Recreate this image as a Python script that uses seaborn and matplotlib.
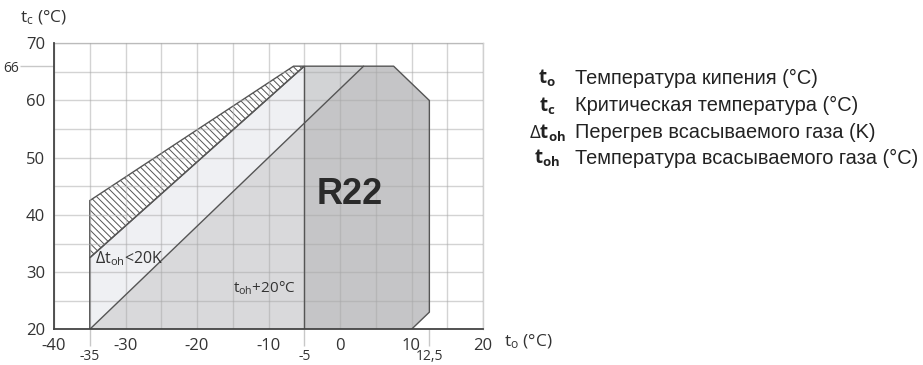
import numpy as np
import pandas as pd
import matplotlib
matplotlib.use("Agg")
import matplotlib.pyplot as plt
import seaborn as sns

# Operating envelope of the compressor (evaporating t_o vs condensing t_c)
env_to = [-35, -35, -5, 7.5, 12.5, 12.5, 10]
env_tc = [20, 32.5, 66, 66, 60, 23, 20]

# Suction gas limit line t_oh + 20°C
limit_to = [-35, 3.3]
limit_tc = [20, 66]

# Band restricted to superheat below 20 K
band_to = [-35, -35, -6.5, -5]
band_tc = [32.5, 42.5, 66, 66]

# Boundary of the dark zone
split_to = -5
t_min, t_max = 20, 66

x_major = [-40, -30, -20, -10, 0, 10, 20]
x_minor = [-35, -25, -15, -5, 5, 15]
y_major = [20, 30, 40, 50, 60, 70]
y_minor = [25, 35, 45, 55, 65]
x_extra = [-35, -5, 12.5]
x_extra_labels = ["-35", "-5", "12,5"]
y_extra = [66]
y_extra_labels = ["66"]

legend_symbols = [r"$\mathbf{t}_\mathbf{o}$", r"$\mathbf{t}_\mathbf{c}$",
                  r"$\Delta\mathbf{t}_\mathbf{oh}$", r"$\mathbf{t}_\mathbf{oh}$"]
legend_texts = ["Температура кипения (°C)", "Критическая температура (°C)",
                "Перегрев всасываемого газа (K)", "Температура всасываемого газа (°C)"]

sns.set_theme(style="white")
plt.rcParams["font.family"] = ["Open Sans", "DejaVu Sans"]
plt.rcParams["axes.unicode_minus"] = False
plt.rcParams["mathtext.fontset"] = "custom"
plt.rcParams["mathtext.rm"] = "Open Sans"
plt.rcParams["mathtext.it"] = "Open Sans"
plt.rcParams["mathtext.bf"] = "Open Sans:bold"
plt.rcParams["hatch.linewidth"] = 0.7

W, H = 923, 365
fig = plt.figure(figsize=(W / 100, H / 100), dpi=100)
ax = fig.add_axes([54 / W, 35.7 / H, (483 - 54) / W, (329.3 - 43.3) / H])

env_pts = list(zip(env_to, env_tc))
right_part = [(x, y) for x, y in env_pts if x > limit_to[-1]]

# light full envelope
ax.fill(env_to, env_tc, facecolor="#eff0f3", edgecolor="none", zorder=1)
# zone below the t_oh + 20°C line
zone_b = list(zip(limit_to, limit_tc)) + right_part
ax.fill([p[0] for p in zone_b], [p[1] for p in zone_b],
        facecolor="#d9d9db", edgecolor="none", zorder=1.5)
# dark zone right of t_o = -5
zone_c = [(split_to, t_min), (split_to, t_max)] + [(x, y) for x, y in env_pts if x > split_to]
ax.fill([p[0] for p in zone_c], [p[1] for p in zone_c],
        facecolor="#aaaaac", alpha=0.41, edgecolor="none", zorder=2)
# hatched superheat band
ax.fill(band_to, band_tc, facecolor="white", edgecolor="#555555",
        hatch="\\\\\\\\\\", linewidth=1.0, zorder=2.2)

# outlines
segs = pd.DataFrame({
    "to": env_to + limit_to + [split_to, split_to],
    "tc": env_tc + limit_tc + [t_min, t_max],
    "seg": ["env"] * len(env_to) + ["limit"] * 2 + ["split"] * 2,
})
sns.lineplot(data=segs, x="to", y="tc", units="seg", estimator=None, sort=False,
             color="#555555", linewidth=1.0, ax=ax, zorder=3, legend=False)

ax.set_xlim(-40, 20)
ax.set_ylim(20, 70)
ax.set_xticks(x_major)
ax.set_xticks(x_minor, minor=True)
ax.set_yticks(y_major)
ax.set_yticks(y_minor, minor=True)
ax.set_xlabel("")
ax.set_ylabel("")
ax.set_axisbelow(False)
ax.grid(which="both", color="#a8a8a8", alpha=0.5, linewidth=1.0)
ax.tick_params(axis="both", which="both", length=5, width=1, color="#c8c8c8",
               labelsize=12, labelcolor="#333333", pad=1.5)
ax.tick_params(axis="x", which="minor", labelbottom=False)

for side in ["left", "bottom"]:
    ax.spines[side].set_color("#444444")
    ax.spines[side].set_linewidth(1.3)
    ax.spines[side].set_zorder(4)
for side in ["top", "right"]:
    ax.spines[side].set_color("#d0d0d0")
    ax.spines[side].set_linewidth(1.0)

secx = ax.secondary_xaxis("bottom")
secx.set_xticks(x_extra, labels=x_extra_labels)
secx.tick_params(length=12, width=1, color="#c8c8c8", labelsize=10,
                 labelcolor="#333333", pad=2)
secx.spines["bottom"].set_visible(False)

secy = ax.secondary_yaxis("left")
secy.set_yticks(y_extra, labels=y_extra_labels)
secy.tick_params(length=24.5, width=1, color="#c8c8c8", labelsize=10,
                 labelcolor="#333333", pad=0.5)
secy.spines["left"].set_visible(False)

ax.text(-34.2, 32.3, r"$\Delta$t$_{\rm oh}$<20K", ha="left", va="center",
        fontsize=11.5, color="#333333", zorder=5)
ax.text(-15.0, 27.2, r"t$_{\rm oh}$+20°C", ha="left", va="center",
        fontsize=11, color="#333333", zorder=5)
ax.text(1.3, 43.5, "R22", ha="center", va="center", fontsize=26,
        fontweight="bold", family="Liberation Sans", color="#2a2a2a", zorder=5)

fig.text(20 / W, 1 - 18 / H, r"t$_{\rm c}$ (°C)", ha="left", va="center",
         fontsize=12.5, color="#333333")
fig.text(504 / W, 1 - 342 / H, r"t$_{\rm o}$ (°C)", ha="left", va="center",
         fontsize=12.5, color="#333333")

rows_y = [78, 105, 132, 158]
for sym, txt, yy in zip(legend_symbols, legend_texts, rows_y):
    fig.text(547 / W, 1 - yy / H, sym, ha="center", va="center",
             fontsize=13.5, color="#222222")
    fig.text(575 / W, 1 - yy / H, txt, ha="left", va="center",
             fontsize=14.4, family="Liberation Sans", color="#222222")

fig.savefig("out.png", dpi=100)
